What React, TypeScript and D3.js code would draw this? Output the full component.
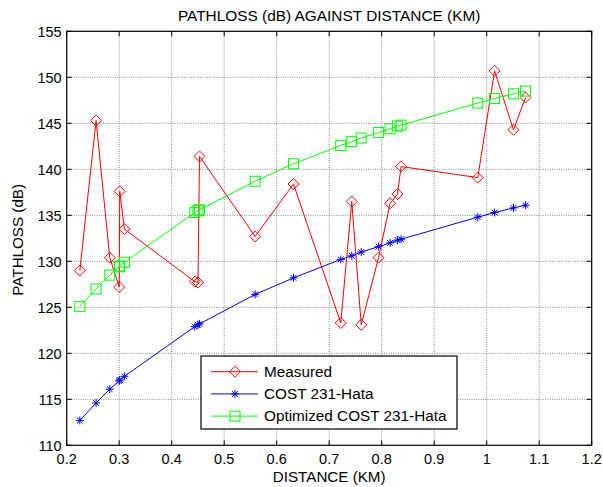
import React from "react";
import * as d3 from "d3";

// Distance of each measurement point (km)
const distances = [
  0.225, 0.256, 0.282, 0.3, 0.301, 0.31, 0.444, 0.45, 0.453, 0.559, 0.632,
  0.722, 0.743, 0.761, 0.794, 0.816, 0.83, 0.837, 0.983, 1.015, 1.051, 1.074,
];

// Path loss series (dB)
const measured = [
  129.0, 145.3, 130.4, 127.2, 137.6, 133.5, 127.8, 127.7, 141.4, 132.7, 138.4,
  123.3, 136.5, 123.1, 130.4, 136.3, 137.3, 140.3, 139.1, 150.7, 144.3, 147.8,
];
const cost231 = [
  112.7, 114.6, 116.1, 117.0, 117.1, 117.5, 122.9, 123.1, 123.2, 126.4, 128.2,
  130.2, 130.6, 131.0, 131.6, 132.0, 132.3, 132.4, 134.8, 135.3, 135.8, 136.1,
];
const optimized = [
  125.1, 127.0, 128.5, 129.4, 129.5, 129.9, 135.3, 135.5, 135.6, 138.7, 140.6,
  142.6, 143.0, 143.4, 144.0, 144.4, 144.7, 144.8, 147.2, 147.7, 148.2, 148.5,
];

const xTicks = [0.2, 0.3, 0.4, 0.5, 0.6, 0.7, 0.8, 0.9, 1, 1.1, 1.2];
const yTicks = [110, 115, 120, 125, 130, 135, 140, 145, 150, 155];
const seriesNames = ["Measured", "COST 231-Hata", "Optimized COST 231-Hata"];

const W = 603;
const H = 487;
const M = { left: 66.7, right: 591.7, top: 31.3, bottom: 445.3 };
const FONT = "'Liberation Sans', Arial, Helvetica, sans-serif";

type MarkerKind = "diamond" | "star" | "square";

function Marker({ kind, x, y, color }: { kind: MarkerKind; x: number; y: number; color: string }) {
  if (kind === "diamond") {
    const r = 5.5;
    return (
      <path
        d={`M${x},${y - r}L${x + r},${y}L${x},${y + r}L${x - r},${y}Z`}
        fill="none"
        stroke={color}
        strokeWidth={1}
      />
    );
  }
  if (kind === "square") {
    const s = 5;
    return <rect x={x - s} y={y - s} width={2 * s} height={2 * s} fill="none" stroke={color} strokeWidth={1} />;
  }
  const r = 4;
  const d2 = r * 0.72;
  return (
    <path
      d={`M${x - r},${y}L${x + r},${y}M${x},${y - r}L${x},${y + r}M${x - d2},${y - d2}L${x + d2},${y + d2}M${x - d2},${y + d2}L${x + d2},${y - d2}`}
      stroke={color}
      strokeWidth={1}
      fill="none"
    />
  );
}

export default function App() {
  const x = d3.scaleLinear().domain([0.2, 1.2]).range([M.left, M.right]);
  const y = d3.scaleLinear().domain([110, 155]).range([M.bottom, M.top]);

  const series: { name: string; values: number[]; color: string; kind: MarkerKind }[] = [
    { name: seriesNames[0], values: measured, color: "#ff0000", kind: "diamond" },
    { name: seriesNames[1], values: cost231, color: "#0000ff", kind: "star" },
    { name: seriesNames[2], values: optimized, color: "#00ff00", kind: "square" },
  ];

  const line = d3
    .line<[number, number]>()
    .x((d) => x(d[0]))
    .y((d) => y(d[1]));

  const tickLen = 5;
  const legend = { x: 201, y: 356, w: 256, h: 73 };

  return (
    <svg width={W} height={H} style={{ position: "absolute", left: 0, top: 0, background: "#fff" }} fontFamily={FONT}>
      <rect x={0} y={0} width={W} height={H} fill="#fff" />

      {/* grid */}
      <g stroke="#555" strokeWidth={0.7} strokeDasharray="1 1.3">
        {xTicks.slice(1, -1).map((t) => (
          <line key={"gx" + t} x1={x(t)} x2={x(t)} y1={M.top} y2={M.bottom} />
        ))}
        {yTicks.slice(1, -1).map((t) => (
          <line key={"gy" + t} x1={M.left} x2={M.right} y1={y(t)} y2={y(t)} />
        ))}
      </g>

      {/* series */}
      {series.map((s) => {
        const pts: [number, number][] = distances.map((d, i) => [d, s.values[i]]);
        return (
          <g key={s.name}>
            <path d={line(pts) || ""} fill="none" stroke={s.color} strokeWidth={1} />
            {pts.map((p, i) => (
              <Marker key={i} kind={s.kind} x={x(p[0])} y={y(p[1])} color={s.color} />
            ))}
          </g>
        );
      })}

      {/* axes box and ticks */}
      <rect
        x={M.left}
        y={M.top}
        width={M.right - M.left}
        height={M.bottom - M.top}
        fill="none"
        stroke="#000"
        strokeWidth={1.2}
      />
      <g stroke="#000" strokeWidth={1}>
        {xTicks.map((t) => (
          <g key={"tx" + t}>
            <line x1={x(t)} x2={x(t)} y1={M.bottom} y2={M.bottom - tickLen} />
            <line x1={x(t)} x2={x(t)} y1={M.top} y2={M.top + tickLen} />
          </g>
        ))}
        {yTicks.map((t) => (
          <g key={"ty" + t}>
            <line x1={M.left} x2={M.left + tickLen} y1={y(t)} y2={y(t)} />
            <line x1={M.right} x2={M.right - tickLen} y1={y(t)} y2={y(t)} />
          </g>
        ))}
      </g>

      {/* tick labels */}
      <g fontSize={14.5} fill="#000">
        {xTicks.map((t) => (
          <text key={"lx" + t} x={x(t)} y={M.bottom + 18.2} textAnchor="middle">
            {d3.format("~g")(t)}
          </text>
        ))}
        {yTicks.map((t) => (
          <text key={"ly" + t} x={M.left - 5} y={y(t) + 6} textAnchor="end">
            {t}
          </text>
        ))}
      </g>

      {/* titles */}
      <text x={(M.left + M.right) / 2} y={20.5} textAnchor="middle" fontSize={15.4}>
        PATHLOSS (dB) AGAINST DISTANCE (KM)
      </text>
      <text x={(M.left + M.right) / 2} y={482} textAnchor="middle" fontSize={15.2}>
        DISTANCE (KM)
      </text>
      <text
        transform={`translate(23,${(M.top + M.bottom) / 2 + 1.5}) rotate(-90)`}
        textAnchor="middle"
        fontSize={15.2}
      >
        PATHLOSS (dB)
      </text>

      {/* legend */}
      <rect x={legend.x} y={legend.y} width={legend.w} height={legend.h} fill="#fff" stroke="#000" strokeWidth={1.2} />
      {series.map((s, i) => {
        const cy = legend.y + 15.7 + i * 22.2;
        return (
          <g key={"lg" + s.name}>
            <line x1={legend.x + 10} x2={legend.x + 57} y1={cy} y2={cy} stroke={s.color} strokeWidth={1} />
            <Marker kind={s.kind} x={legend.x + 34} y={cy} color={s.color} />
            <text x={legend.x + 63} y={cy + 5} fontSize={15.3}>
              {s.name}
            </text>
          </g>
        );
      })}
    </svg>
  );
}
